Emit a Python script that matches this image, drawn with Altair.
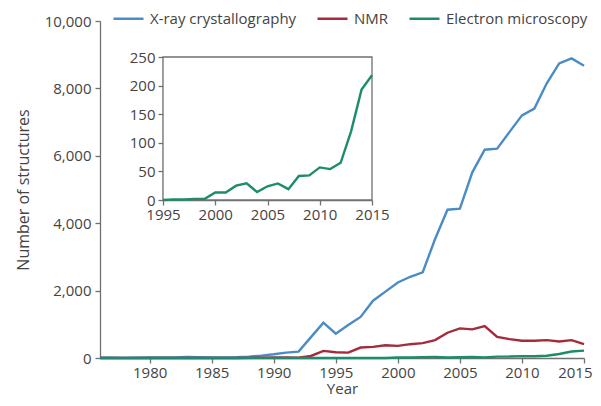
import altair as alt
import pandas as pd

# ---- data ----
years = list(range(1976, 2016))
xray = [10, 10, 5, 10, 15, 15, 20, 30, 25, 20,
        20, 25, 40, 70, 110, 160, 190, 620, 1050, 720,
        980, 1220, 1700, 1970, 2240, 2410, 2540, 3530, 4400, 4430,
        5510, 6180, 6210, 6710, 7200, 7400, 8150, 8740, 8890, 8670]
nmr = [0, 0, 0, 0, 0, 0, 0, 0, 0, 0,
       0, 0, 5, 10, 15, 20, 10, 60, 210, 170,
       160, 310, 330, 380, 360, 410, 440, 530, 750, 880,
       850, 950, 625, 560, 510, 510, 530, 490, 530, 410]
em = [0, 0, 0, 0, 0, 0, 0, 0, 0, 0,
      0, 0, 0, 0, 0, 0, 0, 0, 0, 0,
      1, 1, 2, 2, 13, 13, 25, 29, 14, 24,
      29, 19, 42, 43, 57, 54, 65, 120, 193, 218]

series_names = ["X-ray crystallography", "NMR", "Electron microscopy"]
series_colors = ["#4a8cc6", "#a42a3c", "#1c8c6c"]

main_x_domain = [1976, 2015]
main_x_ticks = [1980, 1985, 1990, 1995, 2000, 2005, 2010, 2015]
main_y_domain = [0, 10000]
main_y_ticks = [0, 2000, 4000, 6000, 8000, 10000]

inset_x_domain = [1995, 2015]
inset_x_ticks = [1995, 2000, 2005, 2010, 2015]
inset_y_domain = [0, 250]
inset_y_ticks = [0, 50, 100, 150, 200, 250]

# ---- tables ----
long = pd.DataFrame({
    "Year": years * 3,
    "Count": xray + nmr + em,
    "Method": [series_names[0]] * len(years) + [series_names[1]] * len(years) + [series_names[2]] * len(years),
})
start = years.index(inset_x_domain[0])
inset_df = pd.DataFrame({"Year": years[start:], "Count": em[start:]})
box_df = pd.DataFrame({"bx_lo": [inset_x_domain[0]], "bx_hi": [inset_x_domain[1]],
                       "by_lo": [inset_y_domain[0]], "by_hi": [inset_y_domain[1]]})

FONT = "Open Sans"
TXT = "#444444"
AX = "#707070"

main = alt.Chart(long).mark_line(strokeWidth=2.4).encode(
    x=alt.X("Year:Q",
            scale=alt.Scale(domain=main_x_domain, nice=False, zero=False),
            axis=alt.Axis(values=main_x_ticks, format="d", title="Year", grid=False,
                          labelPadding=2, labelFlush=True, labelFlushOffset=8,
                          titleFontSize=15, titleY=35, titleBaseline="alphabetic")),
    y=alt.Y("Count:Q",
            scale=alt.Scale(domain=main_y_domain, nice=False),
            axis=alt.Axis(values=main_y_ticks, format=",d", title="Number of structures",
                          grid=False, labelPadding=4, titlePadding=13, labelFlush=False,
                          titleFontSize=16)),
    color=alt.Color("Method:N",
                    scale=alt.Scale(domain=series_names, range=series_colors),
                    legend=alt.Legend(title=None, orient="none", legendX=12, legendY=-19,
                                      direction="horizontal", symbolType="stroke",
                                      symbolSize=900, symbolStrokeWidth=2.5,
                                      labelFontSize=15, labelFont=FONT, labelColor=TXT,
                                      columnPadding=15, labelOffset=5, padding=0)),
)

ix_scale = alt.Scale(domain=inset_x_domain, range=[63, 272], nice=False, zero=False)
iy_scale = alt.Scale(domain=inset_y_domain, range=[179, 36], nice=False, zero=False)
ix_axis = alt.Axis(orient="bottom", offset=-158, values=inset_x_ticks, format="d",
                   title=None, grid=False, labelPadding=2, labelFlush=False)
iy_axis = alt.Axis(orient="left", offset=-63, values=inset_y_ticks, format="d",
                   title=None, grid=False, labelPadding=3, labelFlush=False)

# inset frame (white background, grey border)
box = alt.Chart(box_df).mark_rect(fill="white", stroke=AX, strokeWidth=1.3).encode(
    x=alt.X("bx_lo:Q", scale=ix_scale, axis=ix_axis),
    x2="bx_hi:Q",
    y=alt.Y("by_lo:Q", scale=iy_scale, axis=iy_axis),
    y2="by_hi:Q",
)
inset_line = alt.Chart(inset_df).mark_line(color=series_colors[2], strokeWidth=2.4).encode(
    x=alt.X("Year:Q", scale=ix_scale, axis=ix_axis),
    y=alt.Y("Count:Q", scale=iy_scale, axis=iy_axis),
)
inset = alt.layer(box, inset_line)

chart = alt.layer(main, inset).resolve_scale(
    x="independent", y="independent"
).properties(
    width=484, height=337,
    autosize=alt.AutoSizeParams(type="none"),
    padding={"left": 92, "top": 13, "right": 9, "bottom": 40},
).configure_axis(
    domainColor=AX, tickColor=AX, domainWidth=1.3, tickWidth=1.3, tickSize=5,
    labelColor=TXT, titleColor=TXT, labelFont=FONT, titleFont=FONT,
    labelFontSize=15, titleFontSize=16, titleFontWeight="normal",
).configure_view(stroke=None)

chart.save("out.html", embed_options={"renderer": "svg", "actions": False})
